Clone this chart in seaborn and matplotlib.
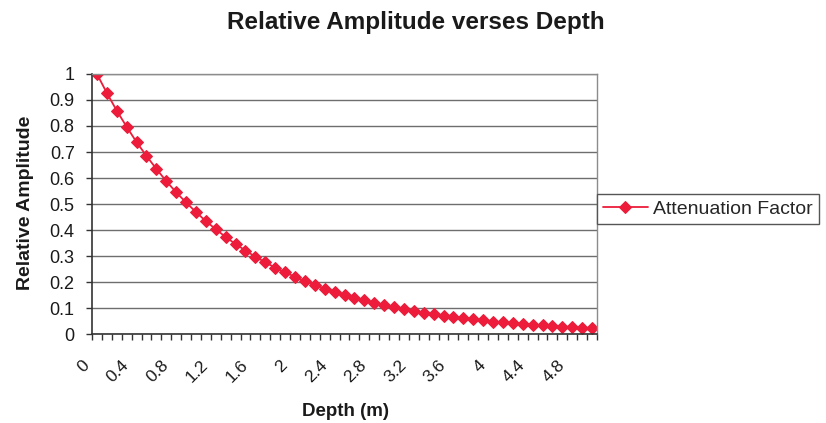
import matplotlib
matplotlib.use("Agg")
import matplotlib.pyplot as plt
import matplotlib.transforms as mtransforms
import seaborn as sns
import pandas as pd

# Depth in metres (category positions along the x axis)
depth = [0.0, 0.1, 0.2, 0.3, 0.4, 0.5, 0.6, 0.7, 0.8, 0.9,
         1.0, 1.1, 1.2, 1.3, 1.4, 1.5, 1.6, 1.7, 1.8, 1.9,
         2.0, 2.1, 2.2, 2.3, 2.4, 2.5, 2.6, 2.7, 2.8, 2.9,
         3.0, 3.1, 3.2, 3.3, 3.4, 3.5, 3.6, 3.7, 3.8, 3.9,
         4.0, 4.1, 4.2, 4.3, 4.4, 4.5, 4.6, 4.7, 4.8, 4.9, 5.0]

# Relative amplitude (attenuation factor) at each depth
amplitude = [1.000, 0.927, 0.859, 0.797, 0.738, 0.685, 0.635, 0.588, 0.545, 0.506,
             0.469, 0.434, 0.403, 0.373, 0.346, 0.321, 0.297, 0.276, 0.255, 0.237,
             0.220, 0.203, 0.189, 0.175, 0.162, 0.150, 0.139, 0.129, 0.120, 0.111,
             0.103, 0.095, 0.088, 0.082, 0.076, 0.070, 0.065, 0.060, 0.056, 0.052,
             0.048, 0.045, 0.041, 0.038, 0.036, 0.033, 0.031, 0.028, 0.026, 0.024,
             0.023]

x_tick_labels = ["0", "0.4", "0.8", "1.2", "1.6", "2", "2.4", "2.8",
                 "3.2", "3.6", "4", "4.4", "4.8"]
y_ticks = [0, 0.1, 0.2, 0.3, 0.4, 0.5, 0.6, 0.7, 0.8, 0.9, 1]
y_tick_labels = ["0", "0.1", "0.2", "0.3", "0.4", "0.5", "0.6", "0.7", "0.8", "0.9", "1"]

series_name = "Attenuation Factor"
df = pd.DataFrame({"Depth": depth, "Amplitude": amplitude, "Series": series_name})

sns.set_theme(style="white")
plt.rcParams["font.family"] = ["Liberation Sans", "DejaVu Sans"]

red = "#EC1C3A"
fig = plt.figure(figsize=(8.26, 4.23), dpi=100)
ax = fig.add_axes([92 / 826, 1 - 334 / 423, 505 / 826, 260 / 423])

sns.lineplot(data=df, x="Depth", y="Amplitude", hue="Series", palette=[red],
             marker="D", markersize=6, markeredgecolor=red, linewidth=1.3,
             ax=ax, legend=True)

# Category axis: points sit in the middle of each category slot
half = (depth[1] - depth[0]) / 2
ax.set_xlim(depth[0] - half, depth[-1] + half)
ax.set_ylim(0, 1)

# Tick marks on category boundaries, labels every fourth category
boundaries = [d - half for d in depth] + [depth[-1] + half]
ax.set_xticks(boundaries, minor=True)
ax.set_xticks(depth[::4][:len(x_tick_labels)])
ax.set_xticklabels(x_tick_labels, rotation=45, ha="right", va="center",
                   rotation_mode="anchor", fontsize=12.5, color="#1a1a1a")
ax.tick_params(axis="x", which="minor", direction="out", length=4, width=1,
               color="#333333", bottom=True)
ax.tick_params(axis="x", which="major", length=0, pad=21)
shift = mtransforms.ScaledTranslation(-10 / 100, 0, fig.dpi_scale_trans)
for lbl in ax.get_xticklabels():
    lbl.set_transform(lbl.get_transform() + shift)

ax.set_yticks(y_ticks)
ax.set_yticklabels(y_tick_labels, fontsize=13, color="#1a1a1a")
ax.tick_params(axis="y", which="major", direction="out", length=4.5, width=1,
               color="#333333", left=True, pad=8)

ax.yaxis.grid(True, color="#6E6E6E", linewidth=1)
ax.xaxis.grid(False)
ax.set_axisbelow(True)

for side in ["top", "right"]:
    ax.spines[side].set_color("#8C8C8C")
    ax.spines[side].set_linewidth(1)
for side in ["left", "bottom"]:
    ax.spines[side].set_color("#333333")
    ax.spines[side].set_linewidth(1.2)

ax.set_xlabel("")
ax.set_ylabel("")
fig.text(346 / 826, 1 - 411 / 423, "Depth (m)", ha="center", va="center",
         fontsize=13.5, fontweight="bold", color="#1a1a1a")
fig.text(26 / 826, 1 - 203 / 423, "Relative Amplitude", ha="center", va="center",
         rotation=90, fontsize=14, fontweight="bold", color="#1a1a1a")
fig.text(416 / 826, 1 - 22 / 423, "Relative Amplitude verses Depth",
         ha="center", va="center", fontsize=17.5, fontweight="bold", color="#1a1a1a")

handles, labels = ax.get_legend_handles_labels()
ax.legend(handles, labels, loc="center left",
          bbox_to_anchor=(597 / 826, 1 - 209 / 423), bbox_transform=fig.transFigure,
          frameon=True, fancybox=False, edgecolor="#555555", framealpha=1,
          fontsize=14, handlelength=2.3, handletextpad=0.3, borderpad=0.3,
          borderaxespad=0)

fig.savefig("out.png", dpi=100)
